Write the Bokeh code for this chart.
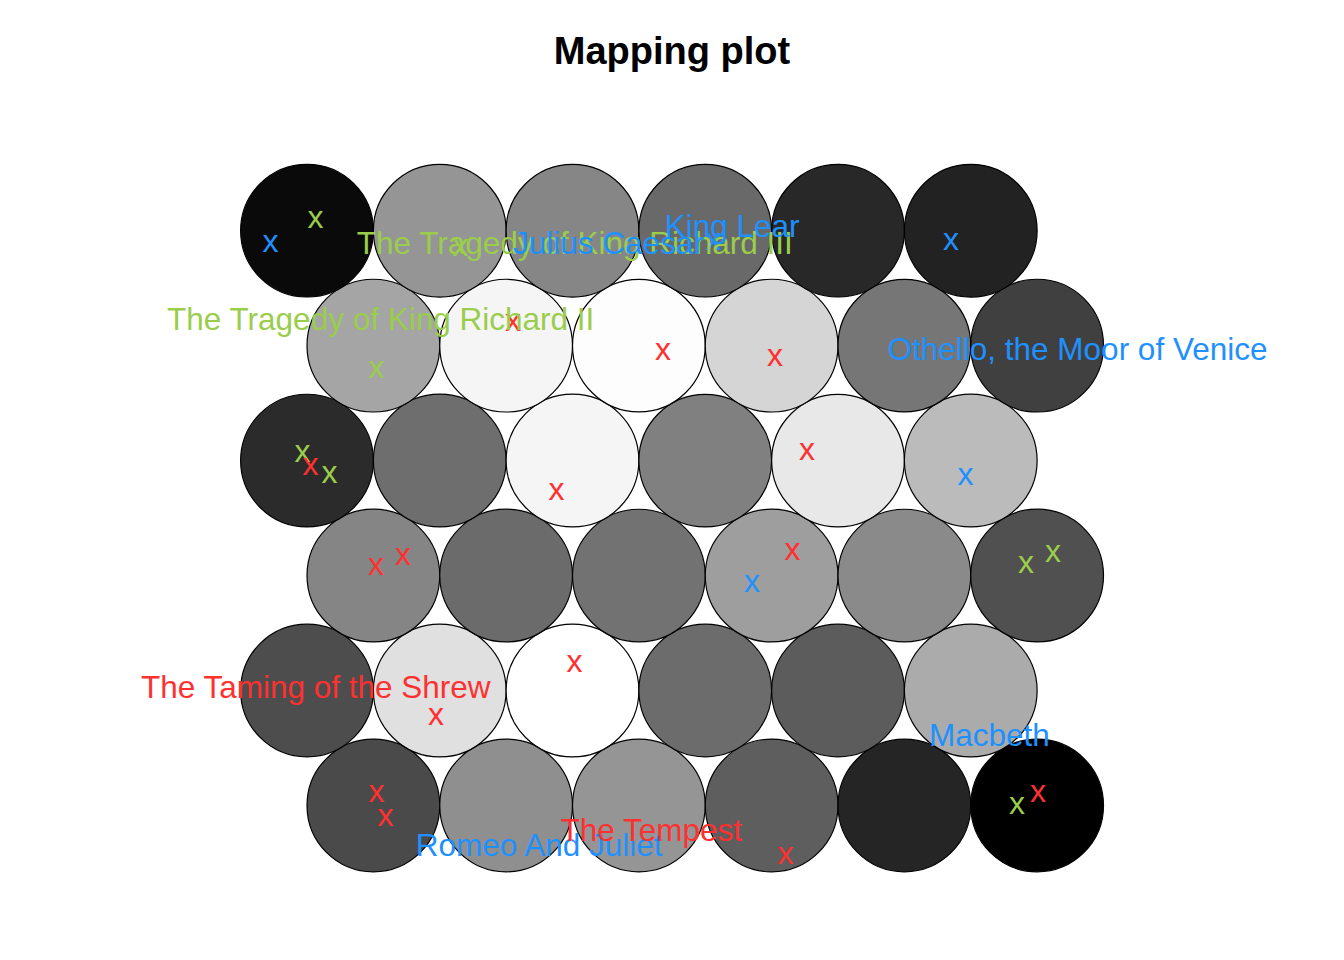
import math
from bokeh.plotting import figure
from bokeh.models import Range1d, ColumnDataSource
from bokeh.core.properties import value
from bokeh.embed import file_html
from bokeh.resources import INLINE

# ---- data ----
xdim = 6
ydim = 6
# grey level of each map unit (0=black, 255=white), bottom row first, left to right
unit_grey = [
    74, 143, 149, 94, 37, 0,
    77, 224, 255, 108, 92, 171,
    133, 107, 114, 158, 138, 80,
    43, 110, 245, 128, 232, 187,
    165, 245, 253, 213, 118, 64,
    10, 149, 134, 105, 40, 34,
]

# mapped observations (map coordinates) and their class colour
obs_x = [0.725, 1.064, 2.156, 4.062, 5.851, 1.524, 2.552, 3.682, 4.525, 0.966,
         1.026, 1.169, 2.879, 4.767, 5.960, 1.520, 1.723, 4.657, 4.352, 6.416,
         6.620, 3.015, 1.972, 1.524, 1.591, 4.605, 6.348, 6.507]
obs_y = [5.103, 5.277, 5.073, 5.115, 5.111, 4.150, 4.501, 4.286, 4.237, 3.518,
         3.420, 3.359, 3.235, 3.536, 3.348, 2.670, 2.738, 2.776, 2.542, 2.685,
         2.761, 1.932, 1.533, 0.953, 0.779, 0.493, 0.866, 0.953]
obs_cls = ["b", "g", "g", "b", "b", "g", "r", "r", "r", "g",
           "r", "g", "r", "r", "b", "r", "r", "r", "b", "g",
           "g", "r", "r", "r", "r", "r", "g", "r"]

labels = ["The Tragedy of King Richard III", "Julius Caesar", "King Lear",
          "The Tragedy of King Richard II", "Othello, the Moor of Venice",
          "The Taming of the Shrew", "Macbeth", "Romeo And Juliet", "The Tempest"]
label_x = [3.019, 3.271, 4.202, 1.557, 6.804, 1.068, 6.141, 2.755, 3.595]
label_y = [5.024, 5.024, 5.152, 4.455, 4.229, 1.680, 1.318, 0.493, 0.602]
label_cls = ["g", "b", "b", "g", "b", "r", "b", "b", "r"]

class_colours = {"r": "#FF3030", "g": "#9ACD4B", "b": "#1E90FF"}
title_text = "Mapping plot"

# ---- grid geometry (hexagonal som grid) ----
ux, uy, ucol = [], [], []
k = 0
for j in range(1, ydim + 1):
    for i in range(1, xdim + 1):
        ux.append(i + (0.5 if j % 2 == 1 else 0.0))
        uy.append(j * math.sqrt(3) / 2)
        g = unit_grey[k]
        ucol.append("#%02x%02x%02x" % (g, g, g))
        k += 1

p = figure(width=1328, height=944, output_backend="svg", toolbar_location=None,
           x_range=Range1d(-1.3089, 8.6949), y_range=Range1d(-0.1811, 6.9300),
           min_border=0, x_axis_location=None, y_axis_location=None,
           outline_line_color=None, background_fill_color="white",
           border_fill_color="white")
p.grid.visible = False

p.circle(x=ux, y=uy, radius=0.5, fill_color=ucol, line_color="black", line_width=1.2)

src_obs = ColumnDataSource(dict(x=obs_x, y=obs_y, t=["x"] * len(obs_x),
                                c=[class_colours[c] for c in obs_cls]))
p.text(x="x", y="y", text="t", source=src_obs, text_color="c",
       text_font=value("Liberation Sans"), text_font_size="32px",
       text_align="center", text_baseline="alphabetic", y_offset=-2.5)

src_lab = ColumnDataSource(dict(x=label_x, y=label_y, t=labels,
                                c=[class_colours[c] for c in label_cls]))
p.text(x="x", y="y", text="t", source=src_lab, text_color="c",
       text_font=value("Liberation Sans"), text_font_size="31.5px",
       text_align="center", text_baseline="alphabetic", y_offset=-10.5)

p.text(x=[3.749], y=[6.453], text=[title_text], text_color="black",
       text_font=value("Liberation Sans"), text_font_size="38px",
       text_font_style="bold", text_align="center", text_baseline="alphabetic",
       y_offset=-12.5)

open("out.html", "w").write(file_html(p, INLINE))
